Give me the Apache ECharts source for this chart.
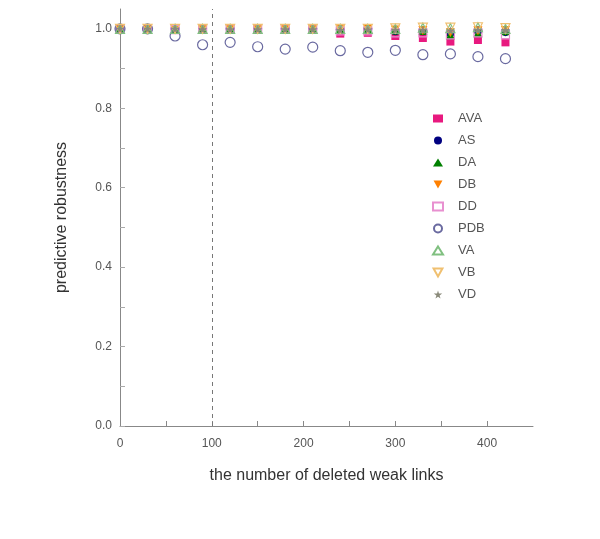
<!DOCTYPE html>
<html>
<head>
<meta charset="utf-8">
<script src="https://cdn.jsdelivr.net/npm/echarts@6/dist/echarts.min.js"></script>
<style>html,body{margin:0;padding:0;background:#fff;}#c{width:600px;height:539px;}</style>
</head>
<body>
<div id="c"></div>
<script>
const xValues = [0, 30, 60, 90, 120, 150, 180, 210, 240, 270, 300, 330, 360, 390, 420];
const AVA = [1, 1, 1, 1, 1, 1, 1, 1, 0.988, 0.99, 0.982, 0.977, 0.968, 0.972, 0.966];
const AS  = [1, 1, 1, 1, 1, 1, 1, 1, 0.998, 1, 0.995, 0.995, 0.99, 0.995, 0.993];
const DA  = [1, 1, 1, 1, 1, 1, 1, 1, 1, 1, 0.997, 0.996, 0.985, 0.99, 0.995];
const DB  = [1, 1, 1, 1, 1, 1, 1, 1, 0.998, 1, 0.997, 0.996, 0.99, 0.995, 0.996];
const DD  = [1, 1, 0.998, 1, 1, 1, 1, 1, 0.995, 0.995, 0.99, 0.99, 0.985, 0.99, 0.985];
const PDB = [1, 1, 0.982, 0.96, 0.966, 0.955, 0.949, 0.954, 0.945, 0.941, 0.946, 0.935, 0.937, 0.93, 0.925];
const VA  = [1, 1, 1, 1, 1, 1, 1, 1, 1, 1, 1, 1.003, 1.002, 1.004, 1];
const VB  = [1, 1, 1, 1, 1, 1, 1, 1, 1, 1, 1.001, 1.003, 1.003, 1.004, 1.002];
const VD  = [1, 1, 1, 0.999, 0.999, 0.999, 0.999, 0.999, 0.997, 0.998, 0.997, 0.997, 0.996, 0.997, 0.997];

const starPath = 'path://M50,0 L61,35 L98,35 L68,57 L79,91 L50,70 L21,91 L32,57 L2,35 L39,35 Z';
const downTri = 'path://M0,0 L10,0 L5,9 Z';

function pts(arr) { return xValues.map((x, i) => [x, arr[i]]); }

const defs = [
  {name: 'AVA', data: AVA, symbol: 'rect', size: 8, fill: '#e8197f', stroke: '#e8197f'},
  {name: 'AS',  data: AS,  symbol: 'circle', size: 9, fill: '#000080', stroke: '#000080'},
  {name: 'DA',  data: DA,  symbol: 'triangle', size: 9, fill: '#008000', stroke: '#008000'},
  {name: 'DB',  data: DB,  symbol: downTri, size: 9, fill: '#ff8000', stroke: '#ff8000'},
  {name: 'DD',  data: DD,  symbol: 'rect', size: 8, fill: 'rgba(0,0,0,0)', stroke: '#e890d0'},
  {name: 'PDB', data: PDB, symbol: 'circle', size: 10, fill: 'rgba(0,0,0,0)', stroke: '#6a6aa0'},
  {name: 'VA',  data: VA,  symbol: 'triangle', size: 9, fill: 'rgba(0,0,0,0)', stroke: '#80c080'},
  {name: 'VB',  data: VB,  symbol: downTri, size: 9, fill: 'rgba(0,0,0,0)', stroke: '#f0c070'},
  {name: 'VD',  data: VD,  symbol: starPath, size: 9, fill: '#8a8a7a', stroke: '#8a8a7a'}
];

const series = defs.map((d, idx) => {
  const s = {
    name: d.name,
    type: 'scatter',
    data: pts(d.data),
    symbol: d.symbol,
    symbolSize: d.size,
    itemStyle: {color: d.fill, borderColor: d.stroke, opacity: 1, borderWidth: d.fill.indexOf('rgba') === 0 ? 1.2 : 0}
  };
  if (idx === 0) {
    s.markLine = {
      silent: true,
      symbol: ['none', 'none'],
      label: {show: false},
      lineStyle: {type: [4, 4], color: '#777', width: 1},
      data: [{xAxis: 100}]
    };
  }
  return s;
});

const chart = echarts.init(document.getElementById('c'));
chart.setOption({
  animation: false,
  grid: {left: 120, right: 67, top: 9, bottom: 113},
  legend: {
    orient: 'vertical',
    left: 427,
    top: 107,
    itemWidth: 10,
    itemHeight: 8,
    itemGap: 9,
    textStyle: {fontSize: 13, color: '#555', padding: [0, 0, 0, 10], fontFamily: 'Liberation Sans, Arial, sans-serif'},
    data: defs.map(d => d.name)
  },
  xAxis: {
    type: 'value',
    min: 0,
    max: 450,
    interval: 50,
    name: 'the number of deleted weak links',
    nameLocation: 'middle',
    nameGap: 42,
    nameTextStyle: {fontSize: 16, color: '#333', fontFamily: 'Liberation Sans, Arial, sans-serif'},
    axisLine: {lineStyle: {color: '#888'}},
    axisTick: {inside: true, length: 5, lineStyle: {color: '#888'}},
    axisLabel: {
      color: '#555', fontSize: 12, margin: 12, fontFamily: 'Liberation Sans, Arial, sans-serif',
      showMaxLabel: false,
      formatter: v => (v % 100 === 0 ? String(v) : '')
    },
    splitLine: {show: false}
  },
  yAxis: {
    type: 'value',
    min: 0,
    max: 1.05,
    interval: 0.1,
    name: 'predictive robustness',
    nameLocation: 'middle',
    nameGap: 50,
    nameTextStyle: {fontSize: 16, color: '#333', fontFamily: 'Liberation Sans, Arial, sans-serif'},
    axisLine: {show: true, lineStyle: {color: '#888'}},
    axisTick: {show: true, inside: true, length: 5, lineStyle: {color: '#aaa'}},
    axisLabel: {
      color: '#555', fontSize: 12, margin: 8, fontFamily: 'Liberation Sans, Arial, sans-serif',
      showMaxLabel: false,
      formatter: v => (Math.round(v * 10) % 2 === 0 ? v.toFixed(1) : '')
    },
    splitLine: {show: false}
  },
  series: series
});
</script>
</body>
</html>
